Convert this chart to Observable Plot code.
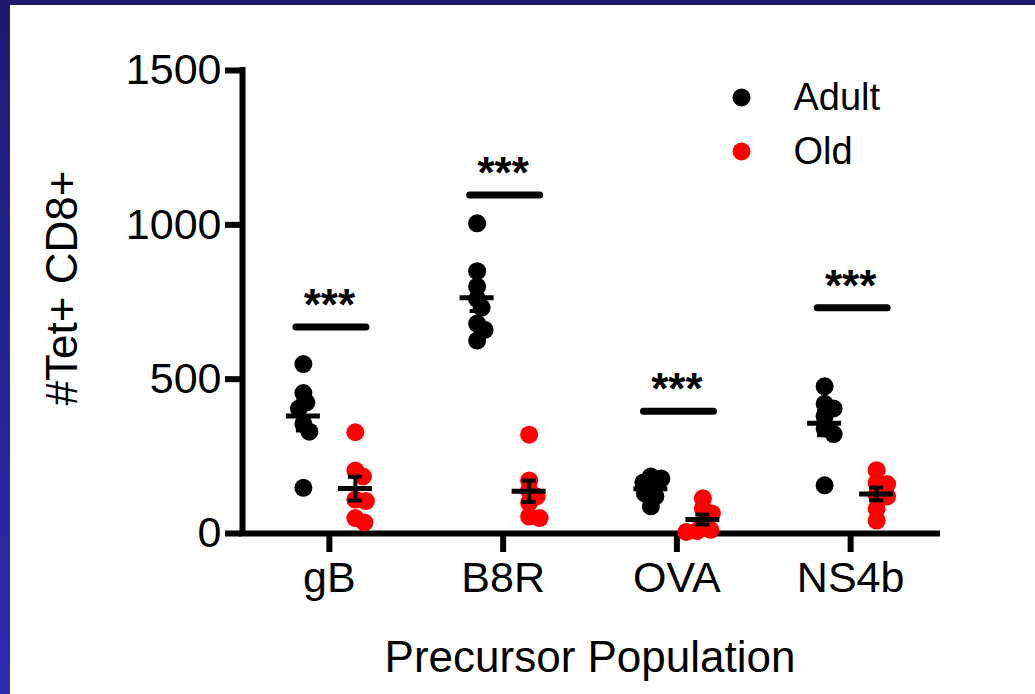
<!DOCTYPE html>
<html>
<head>
<meta charset="utf-8">
<script src="https://cdn.jsdelivr.net/npm/d3@7"></script>
<script src="https://cdn.jsdelivr.net/npm/@observablehq/plot@0.6"></script>
<style>
  html, body { margin: 0; padding: 0; background: #ffffff; }
  #frame { position: relative; width: 1035px; height: 694px; background: #1b1a6c; overflow: hidden; }
  #leftbar { position: absolute; left: 0; top: 0; width: 10px; height: 694px; background: linear-gradient(#1c1a6e, #2b2cb3); }
  #chart { position: absolute; left: 10px; top: 5px; width: 1025px; height: 689px; background: #ffffff; }
</style>
</head>
<body>
<div id="frame"><div id="leftbar"></div><div id="chart"></div></div>
<script>
// ---------- data ----------
const categories = ["gB", "B8R", "OVA", "NS4b"];
const groups = ["Adult", "Old"];
const groupColors = ["#000000", "#ff0000"];

const gB_Adult   = [549, 455, 425, 405, 355, 330, 148];
const gB_Old     = [328, 204, 185, 110, 105, 50, 36];
const B8R_Adult  = [1005, 850, 800, 760, 732, 680, 660, 625];
const B8R_Old    = [320, 172, 140, 120, 100, 55, 50];
const OVA_Adult  = [185, 178, 165, 150, 130, 120, 88];
const OVA_Old    = [114, 81, 65, 32, 12, 5, 8];
const NS4b_Adult = [477, 420, 405, 380, 340, 322, 156];
const NS4b_Old   = [205, 165, 160, 125, 120, 80, 42];

const sigValues = [669, 1097, 396, 731];
const sigLabel = "***";
const yTicks = [0, 500, 1000, 1500];
const yLabel = "#Tet+ CD8+";
const xLabel = "Precursor Population";

const series = [
  {category: "gB", group: "Adult", values: gB_Adult},
  {category: "gB", group: "Old", values: gB_Old},
  {category: "B8R", group: "Adult", values: B8R_Adult},
  {category: "B8R", group: "Old", values: B8R_Old},
  {category: "OVA", group: "Adult", values: OVA_Adult},
  {category: "OVA", group: "Old", values: OVA_Old},
  {category: "NS4b", group: "Adult", values: NS4b_Adult},
  {category: "NS4b", group: "Old", values: NS4b_Old}
];

// ---------- layout ----------
const W = 1025, H = 689, mL = 232, mR = 98, mT = 65, mB = 161;
const font = "'Liberation Sans', Arial, Helvetica, sans-serif";
const yPx = d3.scaleLinear([0, 1500], [H - mB, mT]);
const pxPerUnit = (W - mL - mR) / categories.length;
const groupShiftPx = {Adult: -26, Old: 26};
const minDist = 9.5;

const points = [];
const stats = [];
for (const s of series) {
  const ci = categories.indexOf(s.category);
  const shift = groupShiftPx[s.group];
  const placed = [];
  const sorted = [...s.values].sort((a, b) => b - a);
  for (const v of sorted) {
    const py = yPx(v);
    let off = 0;
    for (let k = 0; k < 400; k++) {
      const cand = (k % 2 ? 1 : -1) * Math.ceil(k / 2) * 1.5;
      if (placed.every(p => Math.hypot(p.x - cand, p.y - py) >= minDist)) { off = cand; break; }
    }
    placed.push({x: off, y: py});
    points.push({category: s.category, group: s.group, value: v, x: ci + (shift + off) / pxPerUnit});
  }
  const m = d3.mean(s.values);
  const sem = d3.deviation(s.values) / Math.sqrt(s.values.length);
  stats.push({x: ci + shift / pxPerUnit, mean: m, lo: m - sem, hi: m + sem});
}
const sig = sigValues.map((v, i) => ({i, value: v, label: sigLabel}));
const u = px => px / pxPerUnit;

const legendMarks = groups.flatMap((g, i) => [
  Plot.dot([g], {frameAnchor: "top-right", dx: -196, dy: 27 + 54 * i, r: 9, fill: groupColors[i]}),
  Plot.text([g], {frameAnchor: "top-right", dx: -144, dy: 27 + 54 * i, text: d => d, textAnchor: "start", lineAnchor: "middle", fontSize: 38, fill: "#000"})
]);

const chart = Plot.plot({
  width: W, height: H,
  marginLeft: mL, marginRight: mR, marginTop: mT, marginBottom: mB,
  style: {fontFamily: font, background: "white", overflow: "visible"},
  x: {type: "linear", domain: [-0.5, categories.length - 0.5]},
  y: {domain: [0, 1500]},
  color: {domain: groups, range: groupColors},
  marks: [
    Plot.axisY({ticks: yTicks, tickFormat: d => String(d), tickSize: 17, strokeWidth: 6, tickPadding: 4, fontSize: 43, label: null, fill: "#000"}),
    Plot.axisX({ticks: d3.range(categories.length), tickFormat: i => categories[i], tickSize: 19, strokeWidth: 6, tickPadding: 9, fontSize: 43, label: null, fill: "#000"}),
    Plot.ruleY([0], {x1: -0.5, x2: categories.length - 0.5, stroke: "#000", strokeWidth: 6, strokeLinecap: "square"}),
    Plot.ruleX([-0.5], {y1: 0, y2: 1500, stroke: "#000", strokeWidth: 6, strokeLinecap: "square"}),
    Plot.dot(points, {x: "x", y: "value", r: 9, fill: "group", stroke: null}),
    Plot.ruleX(stats, {x: "x", y1: "lo", y2: "hi", stroke: "#000", strokeWidth: 4}),
    Plot.ruleY(stats, {y: "hi", x1: d => d.x - u(7), x2: d => d.x + u(7), stroke: "#000", strokeWidth: 4}),
    Plot.ruleY(stats, {y: "lo", x1: d => d.x - u(7), x2: d => d.x + u(7), stroke: "#000", strokeWidth: 4}),
    Plot.ruleY(stats, {y: "mean", x1: d => d.x - u(17), x2: d => d.x + u(17), stroke: "#000", strokeWidth: 5}),
    Plot.ruleY(sig, {y: "value", x1: d => d.i + 0.012 - u(35), x2: d => d.i + 0.012 + u(35), stroke: "#000", strokeWidth: 7, strokeLinecap: "round"}),
    Plot.text(sig, {x: "i", y: "value", text: "label", dy: -21, lineAnchor: "middle", fontSize: 44, fontWeight: "bold", fill: "#000"}),
    ...legendMarks,
    Plot.text([yLabel], {frameAnchor: "left", text: d => d, rotate: -90, textAnchor: "middle", lineAnchor: "middle", dx: -180, dy: -14, fontSize: 44, fill: "#000"}),
    Plot.text([xLabel], {frameAnchor: "bottom", text: d => d, textAnchor: "middle", dy: 124, lineAnchor: "middle", fontSize: 44, fill: "#000"})
  ]
});
document.getElementById("chart").appendChild(chart);
</script>
</body>
</html>
